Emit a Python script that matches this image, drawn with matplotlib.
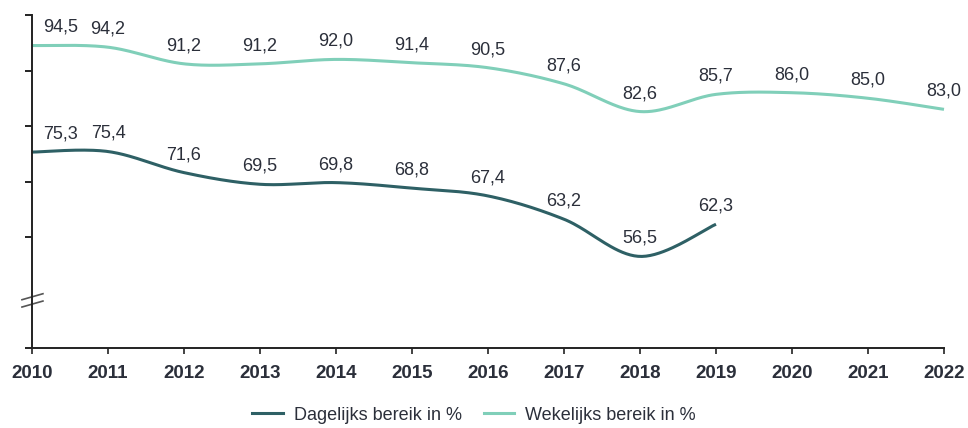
import numpy as np
import matplotlib
matplotlib.use("Agg")
import matplotlib.pyplot as plt
from matplotlib.lines import Line2D

years = [2010, 2011, 2012, 2013, 2014, 2015, 2016, 2017, 2018, 2019, 2020, 2021, 2022]
dagelijks_years = [2010, 2011, 2012, 2013, 2014, 2015, 2016, 2017, 2018, 2019]
dagelijks = [75.3, 75.4, 71.6, 69.5, 69.8, 68.8, 67.4, 63.2, 56.5, 62.3]
wekelijks = [94.5, 94.2, 91.2, 91.2, 92.0, 91.4, 90.5, 87.6, 82.6, 85.7, 86.0, 85.0, 83.0]
series_names = ["Dagelijks bereik in %", "Wekelijks bereik in %"]
colors = ["#2e6065", "#80cfb9"]
text_color = "#2b2f3a"
yticks = [40, 60, 70, 80, 90, 100]


def smooth(x, y, n=40):
    x = np.asarray(x, float)
    y = np.asarray(y, float)
    xs, ys = [], []
    for i in range(len(x) - 1):
        p0 = np.array([x[i - 1] if i > 0 else x[i], y[i - 1] if i > 0 else y[i]])
        p1 = np.array([x[i], y[i]])
        p2 = np.array([x[i + 1], y[i + 1]])
        p3 = np.array([x[i + 2], y[i + 2]]) if i + 2 < len(x) else p2
        c1 = p1 + (p2 - p0) / 6.0
        c2 = p2 - (p3 - p1) / 6.0
        t = np.linspace(0, 1, n)[:, None]
        b = ((1 - t) ** 3) * p1 + 3 * ((1 - t) ** 2) * t * c1 + 3 * (1 - t) * t ** 2 * c2 + t ** 3 * p2
        xs.append(b[:, 0])
        ys.append(b[:, 1])
    return np.concatenate(xs), np.concatenate(ys)


plt.rcParams['font.family'] = ['Liberation Sans', 'DejaVu Sans']
fig = plt.figure(figsize=(9.68, 4.28), dpi=100)
ax = fig.add_axes([32 / 968, 80 / 428, 912 / 968, 333 / 428])

for xs_, ys_, c in [(dagelijks_years, dagelijks, colors[0]), (years, wekelijks, colors[1])]:
    sx, sy = smooth(xs_, ys_)
    ax.plot(sx, sy, color=c, lw=2.2, solid_capstyle='butt', clip_on=False)
    for i, (xv, yv) in enumerate(zip(xs_, ys_)):
        lbl = f"{yv:.1f}".replace(".", ",")
        if i == 0:
            ax.annotate(lbl, (xv, yv), xytext=(8, 13), textcoords='offset points',
                        ha='left', va='center', fontsize=13, color=text_color)
        else:
            ax.annotate(lbl, (xv, yv), xytext=(0, 13), textcoords='offset points',
                        ha='center', va='center', fontsize=13, color=text_color)

ax.set_xlim(2010, 2022)
ax.set_ylim(40, 100)
ax.set_xticks(years)
ax.set_xticklabels([str(y) for y in years], fontsize=13.5, fontweight='bold', color=text_color)
ax.set_yticks(yticks)
ax.set_yticklabels([])
for s in ['top', 'right']:
    ax.spines[s].set_visible(False)
for s in ['left', 'bottom']:
    ax.spines[s].set_color('#222222')
    ax.spines[s].set_linewidth(1.4)
ax.tick_params(axis='y', length=5, width=1.4, color='#222222')
ax.tick_params(axis='x', length=4, width=1.2, color='#222222', pad=8)

# axis break mark
for dy in [0.0, -0.022]:
    ax.add_line(Line2D([-0.011, 0.012], [0.145 + dy, 0.163 + dy], transform=ax.transAxes,
                       color='#555555', lw=1.2, clip_on=False))

handles = [Line2D([], [], color=c, lw=2.2) for c in colors]
fig.legend(handles, series_names, loc='center', bbox_to_anchor=(474 / 968, 1 - 415 / 428),
           ncol=2, frameon=False, fontsize=13, handlelength=1.7, handletextpad=0.6,
           columnspacing=1.2, labelcolor=text_color)

fig.savefig("out.png", dpi=100)
